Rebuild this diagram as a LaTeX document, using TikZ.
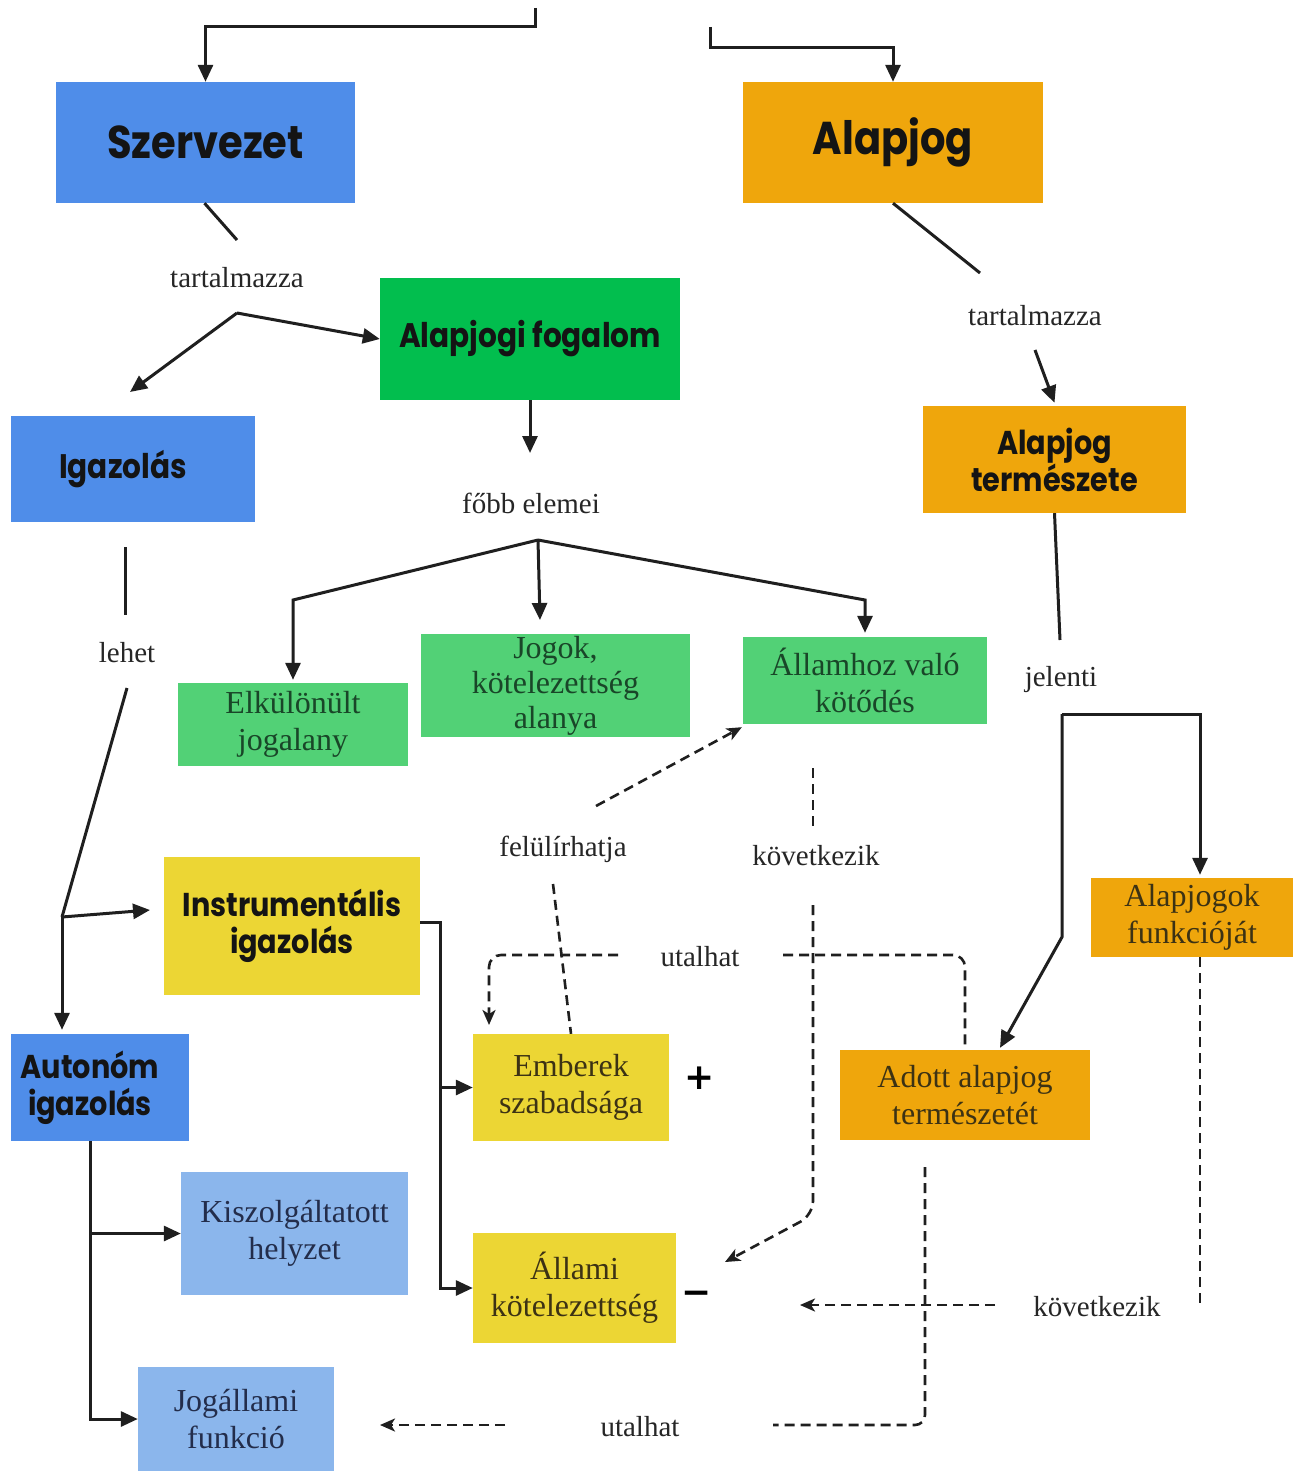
\documentclass[tikz,border=0pt]{standalone}
\usepackage{fontspec}
\setmainfont{Liberation Serif}
\newfontfamily\headfont{Poppins}[FakeStretch=0.87]
\newfontfamily\symfont{DejaVu Sans}
\usetikzlibrary{arrows.meta}
\definecolor{cblue}{RGB}{79,141,233}
\definecolor{corange}{RGB}{239,166,12}
\definecolor{cgreen}{RGB}{2,190,78}
\definecolor{clgreen}{RGB}{82,209,118}
\definecolor{cyellow}{RGB}{236,214,52}
\definecolor{clblue}{RGB}{139,182,236}
\definecolor{tgreen}{RGB}{25,70,40}
\definecolor{tyellow}{RGB}{60,50,20}
\definecolor{tblue}{RGB}{35,45,75}
\tikzset{
  box/.style={rectangle, inner sep=2pt, align=center, anchor=center},
  head/.style={box, font=\headfont\bfseries\fontsize{34}{37}\selectfont, text=black!92},
  body/.style={box, font=\fontsize{32}{37}\selectfont},
  lab/.style={inner sep=0pt, font=\fontsize{29}{32}\selectfont, text=black!85},
  ln/.style={line width=3pt, draw=black!88},
  arr/.style={ln, -{Triangle[length=17pt,width=15pt]}},
  dln/.style={line width=2.6pt, draw=black!88, dash pattern=on 10pt off 6pt},
  darr/.style={dln, -{Stealth[length=15pt,width=13pt,inset=4pt]}}
}
\begin{document}
\begin{tikzpicture}[x=1pt,y=-1pt]
\fill[white] (0,0) rectangle (1298,1471);
\useasboundingbox (0,0) rectangle (1298,1471);

% boxes
\node[head, fill=cblue, minimum width=299pt, minimum height=121pt, font=\headfont\bfseries\fontsize{46}{50}\selectfont] (szerv) at (205.5,142.5) {Szervezet};
\node[head, fill=corange, minimum width=300pt, minimum height=121pt, font=\headfont\bfseries\fontsize{46}{50}\selectfont] (alapjog) at (893,142.5) {Alapjog};
\node[head, fill=cgreen, minimum width=300pt, minimum height=122pt] (fogalom) at (530,339) {Alapjogi fogalom};
\node[head, fill=cblue, minimum width=244pt, minimum height=106pt] (igaz) at (133,469) {\hspace*{-20pt}Igazolás};
\node[head, fill=corange, minimum width=263pt, minimum height=107pt, font=\headfont\bfseries\fontsize{33}{37}\selectfont] (term) at (1054.5,459.5) {Alapjog\\természete};
\node[body, fill=clgreen, text=tgreen, minimum width=230pt, minimum height=83pt] (elk) at (293,724.5) {Elkülönült\\jogalany};
\node[body, fill=clgreen, text=tgreen, minimum width=269pt, minimum height=97pt, font=\fontsize{32}{35}\selectfont] (jogok) at (555.5,685.5) {Jogok,\\kötelezettség\\alanya};
\node[body, fill=clgreen, text=tgreen, minimum width=244pt, minimum height=87pt] (allamhoz) at (865,680.5) {Államhoz való\\kötődés};
\node[head, fill=cyellow, minimum width=256pt, minimum height=138pt, font=\headfont\bfseries\fontsize{33}{37}\selectfont] (instr) at (292,926) {Instrumentális\\igazolás};
\node[head, fill=cblue, minimum width=178pt, minimum height=107pt, font=\headfont\bfseries\fontsize{33}{37}\selectfont] (auton) at (100,1087.5) {\hspace*{-20pt}Autonóm\\\hspace*{-20pt}igazolás};
\node[body, fill=cyellow, text=tyellow, minimum width=196pt, minimum height=107pt] (ember) at (571,1087.5) {Emberek\\szabadsága};
\node[body, fill=corange, text=tyellow, minimum width=250pt, minimum height=90pt] (adott) at (965,1095) {Adott alapjog\\természetét};
\node[body, fill=corange, text=tyellow, minimum width=202pt, minimum height=79pt] (funk) at (1192,917.5) {Alapjogok\\funkcióját};
\node[body, fill=clblue, text=tblue, minimum width=227pt, minimum height=123pt] (kisz) at (294.5,1233.5) {Kiszolgáltatott\\helyzet};
\node[body, fill=cyellow, text=tyellow, minimum width=203pt, minimum height=110pt] (allami) at (574.5,1288) {Állami\\kötelezettség};
\node[body, fill=clblue, text=tblue, minimum width=196pt, minimum height=104pt] (jogall) at (236,1419) {Jogállami\\funkció};

% labels
\node[lab] (tart1) at (237,278) {tartalmazza};
\node[lab] (tart2) at (1035,316) {tartalmazza};
\node[lab] (fobb) at (531,503) {főbb elemei};
\node[lab] (lehet) at (127,653) {lehet};
\node[lab] (jelenti) at (1061,680) {jelenti};
\node[lab] (felul) at (563,849) {felülírhatja};
\node[lab] (kov1) at (816,856) {következik};
\node[lab] (utal1) at (700,957) {utalhat};
\node[lab] (kov2) at (1097,1307) {következik};
\node[lab] (utal2) at (640,1427) {utalhat};
\node[inner sep=0pt, font=\symfont\bfseries\fontsize{36}{36}\selectfont] (plus) at (700,1078) {+};
\node[inner sep=0pt, font=\symfont\bfseries\fontsize{36}{36}\selectfont] (minus) at (697,1298) {−};

% coordinates
\coordinate (t0) at (535,8);
\coordinate (t1) at (710,27);
\coordinate (c1) at (237,240);
\coordinate (c2) at (237,313);
\coordinate (c3) at (130,392);
\coordinate (c4) at (530,453);
\coordinate (c5) at (538,540);
\coordinate (c6) at (980,273);
\coordinate (c7) at (1035,350);
\coordinate (c8) at (1060,640);
\coordinate (c9) at (1062,714);
\coordinate (c10) at (125,547);
\coordinate (c11) at (125,615);
\coordinate (c12) at (127,688);
\coordinate (c13) at (62,917);
\coordinate (c14) at (150,910);
\coordinate (c16) at (90,1141);

% solid connectors
\draw[arr] (t0) -- (535,27) -| (szerv.north);
\draw[arr] (t1) -- (710,48) -| (alapjog.north);
\draw[ln] ([xshift=-1pt]szerv.south) -- (c1);
\draw[arr] (c2) -- (fogalom.west);
\draw[arr] (c2) -- (c3);
\draw[arr] (fogalom.south) -- (c4);
\draw[arr] (c5) -- (293,600) -- ([yshift=3pt]elk.north);
\draw[arr] (c5) -- (540,620);
\draw[arr] (c5) -- (865,600) -- ([yshift=4pt]allamhoz.north);
\draw[ln] (alapjog.south) -- (c6);
\draw[arr] (c7) -- ([yshift=3pt]term.north);
\draw[ln] (term.south) -- (c8);
\draw[arr] (c9) -| ([xshift=8pt, yshift=3pt]funk.north);
\draw[arr] (c9) -- (1062,937) -- ([xshift=35pt, yshift=2pt]adott.north);
\draw[ln] (c10) -- (c11);
\draw[ln] (c12) -- (c13);
\draw[arr] (c13) -- (c14);
\draw[arr] (c13) -- ([yshift=4pt]c13 |- auton.north);
\draw[arr] ([yshift=4pt]instr.east) -- ++(20,0) |- (allami.west);
\draw[arr] (440,1087.5) -- (ember.west);
\draw[arr] (c16) |- (kisz.west);
\draw[arr] (c16) |- (jogall.west);

% dashed connectors
\draw[darr] (596,806) -- ([xshift=-1pt,yshift=-3pt]allamhoz.south west);
\draw[dln] (553,884) -- (ember.north);
\draw[dln] (813,768) -- (813,828);
\draw[darr, rounded corners=14pt] (813,905) -- (813,1215) -- (725,1262);
\draw[darr, rounded corners=12pt] (618,955) -- (489,955) -- (489,1025);
\draw[dln, rounded corners=12pt] (783,955) -| (adott.north);
\draw[dln, rounded corners=10pt] (925,1167) -- (925,1425) -- (773,1425);
\draw[darr] (505,1425) -- (380,1425);
\draw[dln] ([xshift=8pt]funk.south) -- (1200,1308);
\draw[darr] (995,1305) -- (800,1305);
\end{tikzpicture}
\end{document}
